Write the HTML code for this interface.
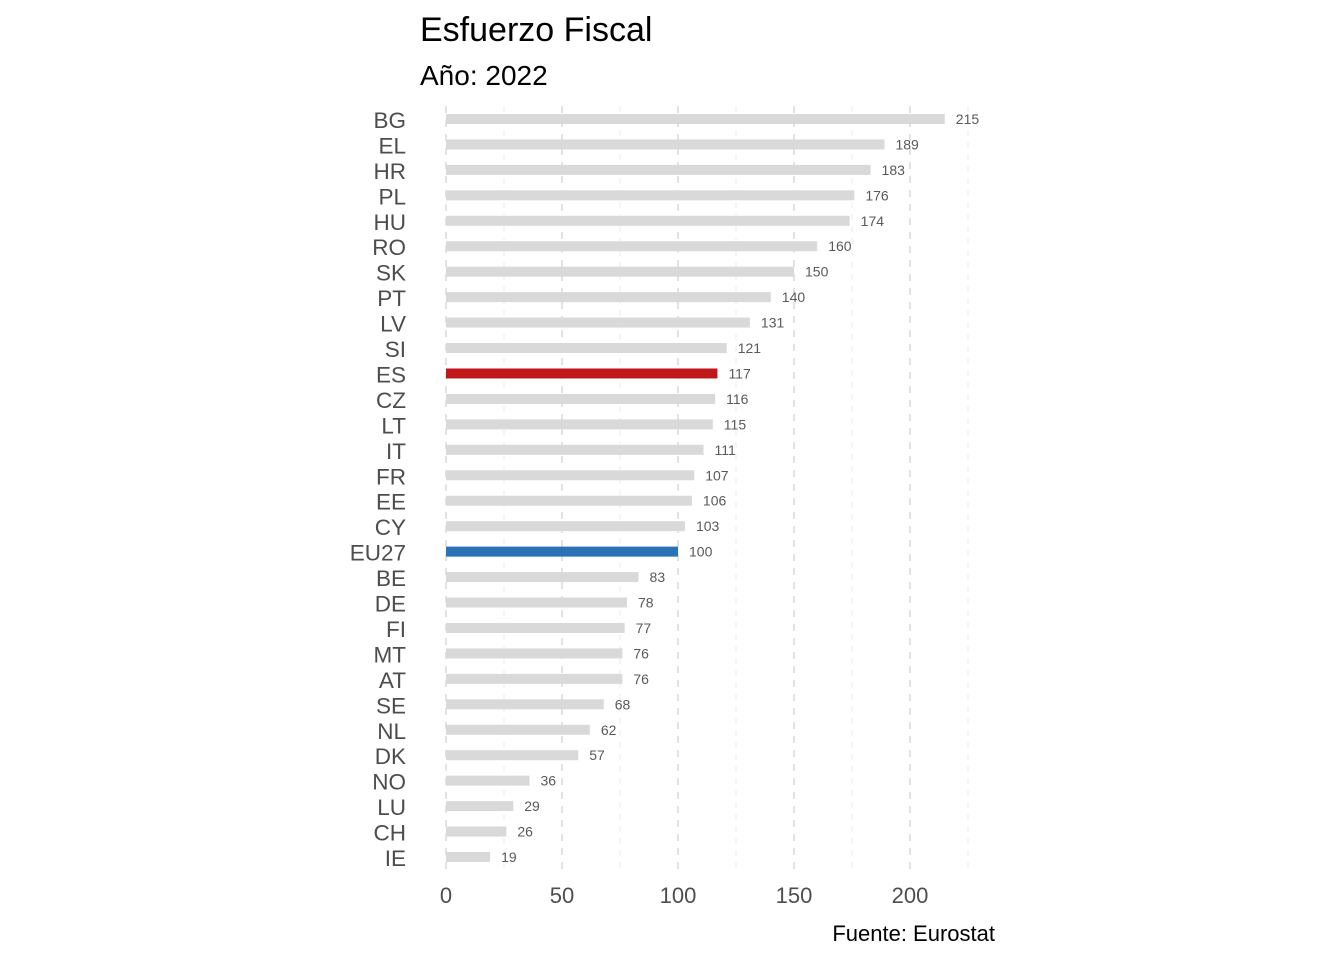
<!DOCTYPE html>
<html><head><meta charset="utf-8">
<style>
html,body{margin:0;padding:0;background:#fff;}
svg{display:block;font-family:"Liberation Sans",Arial,sans-serif;}
</style></head>
<body>
<svg id="chart" width="1344" height="960" viewBox="0 0 1344 960">
<text x="420" y="41" font-size="34" fill="#000">Esfuerzo Fiscal</text>
<text x="420" y="85" font-size="28" fill="#000">Año: 2022</text>
<text x="995" y="941" font-size="22" fill="#000" text-anchor="end">Fuente: Eurostat</text>
<g id="grid"></g>
<g id="bars"></g>
<g id="ylabels"></g>
<g id="xlabels"></g>
</svg>
<script>
const countries = ["BG","EL","HR","PL","HU","RO","SK","PT","LV","SI","ES","CZ","LT","IT","FR","EE","CY","EU27","BE","DE","FI","MT","AT","SE","NL","DK","NO","LU","CH","IE"];
const values = [215,189,183,176,174,160,150,140,131,121,117,116,115,111,107,106,103,100,83,78,77,76,76,68,62,57,36,29,26,19];
const majorTicks = [0,50,100,150,200];
const minorTicks = [25,75,125,175,225];

const NS = "http://www.w3.org/2000/svg";
const x0 = 446, pxPerUnit = 2.32;
const yTop = 119, rowStep = (857-119)/29;
const panelTop = 106, panelBottom = 870;
function xs(v){ return x0 + v*pxPerUnit; }
function ys(i){ return yTop + i*rowStep; }
function mk(tag, attrs, parent){
  const e = document.createElementNS(NS, tag);
  for (const k in attrs) e.setAttribute(k, attrs[k]);
  parent.appendChild(e); return e;
}
const grid = document.getElementById('grid');
minorTicks.forEach(t=>{
  const l = mk('line',{x1:xs(t),x2:xs(t),y1:panelTop,y2:panelBottom,stroke:'#ebebeb','stroke-width':1,'stroke-dasharray':'6,6'},grid);
  
  
});
majorTicks.forEach(t=>{
  const l = mk('line',{x1:xs(t),x2:xs(t),y1:panelTop,y2:panelBottom,stroke:'#e3e3e3','stroke-width':2,'stroke-dasharray':'7,7'},grid);
  
  
});
const bars = document.getElementById('bars');
const ylab = document.getElementById('ylabels');
countries.forEach((c,i)=>{
  const v = values[i];
  const col = c==='ES' ? '#c0171b' : (c==='EU27' ? '#2a72b8' : '#d9d9d9');
  const r = mk('rect',{x:x0,y:ys(i)-5,width:xs(v)-x0,height:10,fill:col},bars);
  
  
  const t = mk('text',{x:xs(v)+11,y:ys(i)+5,'font-size':14,fill:'#595959'},bars);
  t.textContent = v;
  
  
  const yl = mk('text',{x:406,y:ys(i)+9,'font-size':22.5,fill:'#4d4d4d','text-anchor':'end'},ylab);
  yl.textContent = c;
  
  
});
const xlab = document.getElementById('xlabels');
majorTicks.forEach(t=>{
  const e = mk('text',{x:xs(t),y:903,'font-size':22,fill:'#4d4d4d','text-anchor':'middle'},xlab);
  e.textContent = t;
  
  
});
</script>
</body></html>
